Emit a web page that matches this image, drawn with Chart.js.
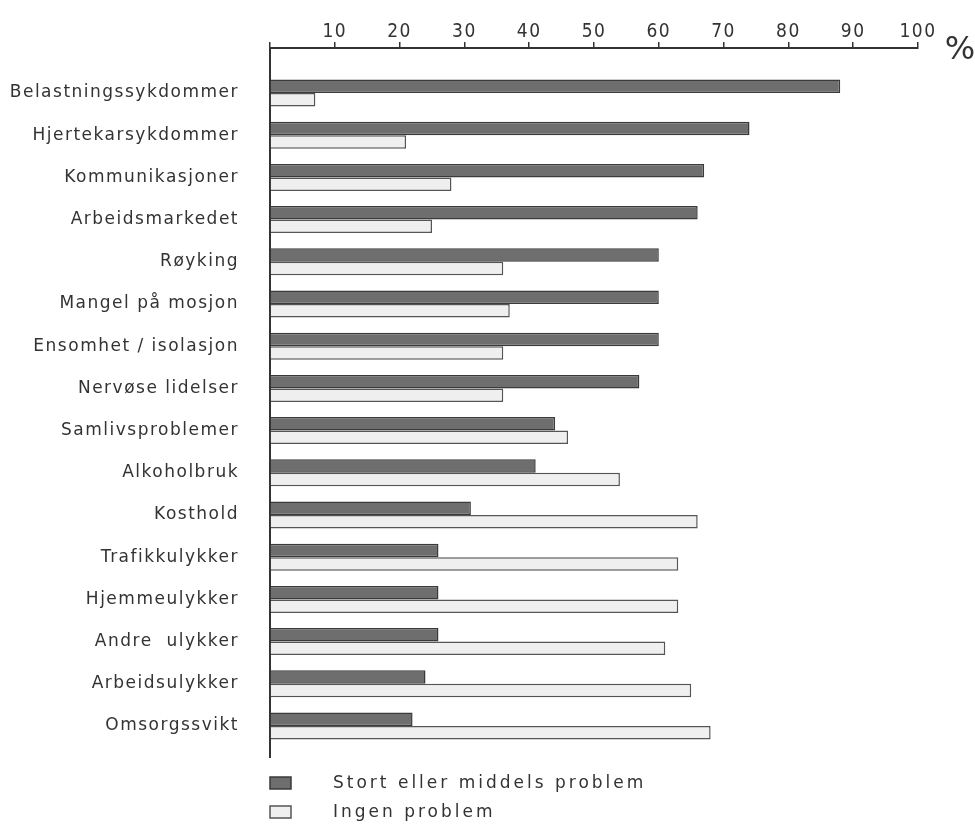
<!DOCTYPE html>
<html>
<head>
<meta charset="utf-8">
<script src="https://cdn.jsdelivr.net/npm/chart.js@4/dist/chart.umd.min.js"></script>
<style>
  html, body { margin: 0; padding: 0; background: #ffffff; }
  #wrap { width: 975px; height: 832px; }
</style>
</head>
<body>
<div id="wrap"><canvas id="c" width="975" height="832"></canvas></div>
<script>
const categories = [
  'Belastningssykdommer',
  'Hjertekarsykdommer',
  'Kommunikasjoner',
  'Arbeidsmarkedet',
  'Røyking',
  'Mangel på mosjon',
  'Ensomhet / isolasjon',
  'Nervøse lidelser',
  'Samlivsproblemer',
  'Alkoholbruk',
  'Kosthold',
  'Trafikkulykker',
  'Hjemmeulykker',
  'Andre  ulykker',
  'Arbeidsulykker',
  'Omsorgssvikt'
];
const stortValues = [88, 74, 67, 66, 60, 60, 60, 57, 44, 41, 31, 26, 26, 26, 24, 22];
const ingenValues = [7, 21, 28, 25, 36, 37, 36, 36, 46, 54, 66, 63, 63, 61, 65, 68];
const xTickValues = [0, 10, 20, 30, 40, 50, 60, 70, 80, 90, 100];
const seriesLabels = ['Stort eller middels problem', 'Ingen problem'];
const unitLabel = '%';

const INK = '#333333';
const FONT = "'DejaVu Sans', 'Liberation Sans', sans-serif";
const NARROW = "'DejaVu Sans Condensed', 'Liberation Sans Narrow', 'DejaVu Sans', sans-serif";

function setSpacing(chart) {
  chart.ctx.letterSpacing = '1.5px';
}

const decorPlugin = {
  id: 'decor',
  beforeUpdate(chart) { setSpacing(chart); },
  beforeLayout(chart) { setSpacing(chart); },
  beforeDraw(chart) { setSpacing(chart); },
  afterDraw(chart) {
    const ctx = chart.ctx;
    const xs = chart.scales.x;
    const ys = chart.scales.y;
    ctx.save();
    ctx.letterSpacing = '0px';
    ctx.fillStyle = INK;
    ctx.font = '32px ' + FONT;
    ctx.textAlign = 'center';
    ctx.textBaseline = 'middle';
    ctx.fillText(unitLabel, xs.right + 42, xs.bottom + 3);

    // legend
    ctx.letterSpacing = '3px';
    ctx.font = '17px ' + FONT;
    ctx.textAlign = 'left';
    chart.data.datasets.forEach((ds, i) => {
      const cy = ys.bottom + 26 + i * 29;
      const lx = ys.right;
      ctx.fillStyle = ds.backgroundColor;
      ctx.strokeStyle = ds.borderColor;
      ctx.lineWidth = 1.5;
      ctx.fillRect(lx, cy - 6, 21, 12);
      ctx.strokeRect(lx, cy - 6, 21, 12);
      ctx.fillStyle = INK;
      ctx.fillText(ds.label, lx + 63, cy + 1);
    });
    ctx.restore();
  }
};

const ctx = document.getElementById('c').getContext('2d');
new Chart(ctx, {
  type: 'bar',
  data: {
    datasets: [
      {
        label: seriesLabels[0],
        data: categories.map((c, i) => ({ y: i, x: stortValues[i] })),
        backgroundColor: '#6e6e6e',
        borderColor: '#3a3a3a',
        borderWidth: 1.5,
        categoryPercentage: 0.64,
        barPercentage: 1.0
      },
      {
        label: seriesLabels[1],
        data: categories.map((c, i) => ({ y: i, x: ingenValues[i] })),
        backgroundColor: '#efefef',
        borderColor: '#555555',
        borderWidth: 1.5,
        categoryPercentage: 0.64,
        barPercentage: 1.0
      }
    ]
  },
  options: {
    indexAxis: 'y',
    responsive: false,
    animation: false,
    layout: { padding: { top: 0, right: 57, bottom: 75, left: 0 } },
    plugins: {
      legend: { display: false },
      tooltip: { enabled: false },
      title: { display: false }
    },
    scales: {
      x: {
        type: 'linear',
        position: 'top',
        min: 0,
        max: 100,
        afterBuildTicks: (s) => { s.ticks = xTickValues.map(v => ({ value: v })); },
        afterFit: (s) => { s.height = 48; },
        ticks: {
          color: INK,
          font: { family: NARROW, size: 19 },
          padding: -1,
          maxRotation: 0,
          autoSkip: false,
          callback: (v) => (v === 0 ? '' : String(v))
        },
        grid: {
          drawOnChartArea: false,
          drawTicks: true,
          tickLength: 6,
          color: INK,
          lineWidth: 1.5
        },
        border: { display: true, color: INK, width: 2 }
      },
      y: {
        type: 'linear',
        reverse: true,
        offset: false,
        min: -1.066,
        max: 15.735,
        afterBuildTicks: (s) => { s.ticks = categories.map((c, i) => ({ value: i })); },
        afterFit: (s) => { s.width = 270; },
        ticks: {
          color: INK,
          font: { family: FONT, size: 17 },
          padding: 31,
          autoSkip: false,
          callback: (v) => categories[v]
        },
        grid: { display: false, drawTicks: false },
        border: { display: true, color: INK, width: 2 }
      }
    }
  },
  plugins: [decorPlugin]
});
</script>
</body>
</html>
